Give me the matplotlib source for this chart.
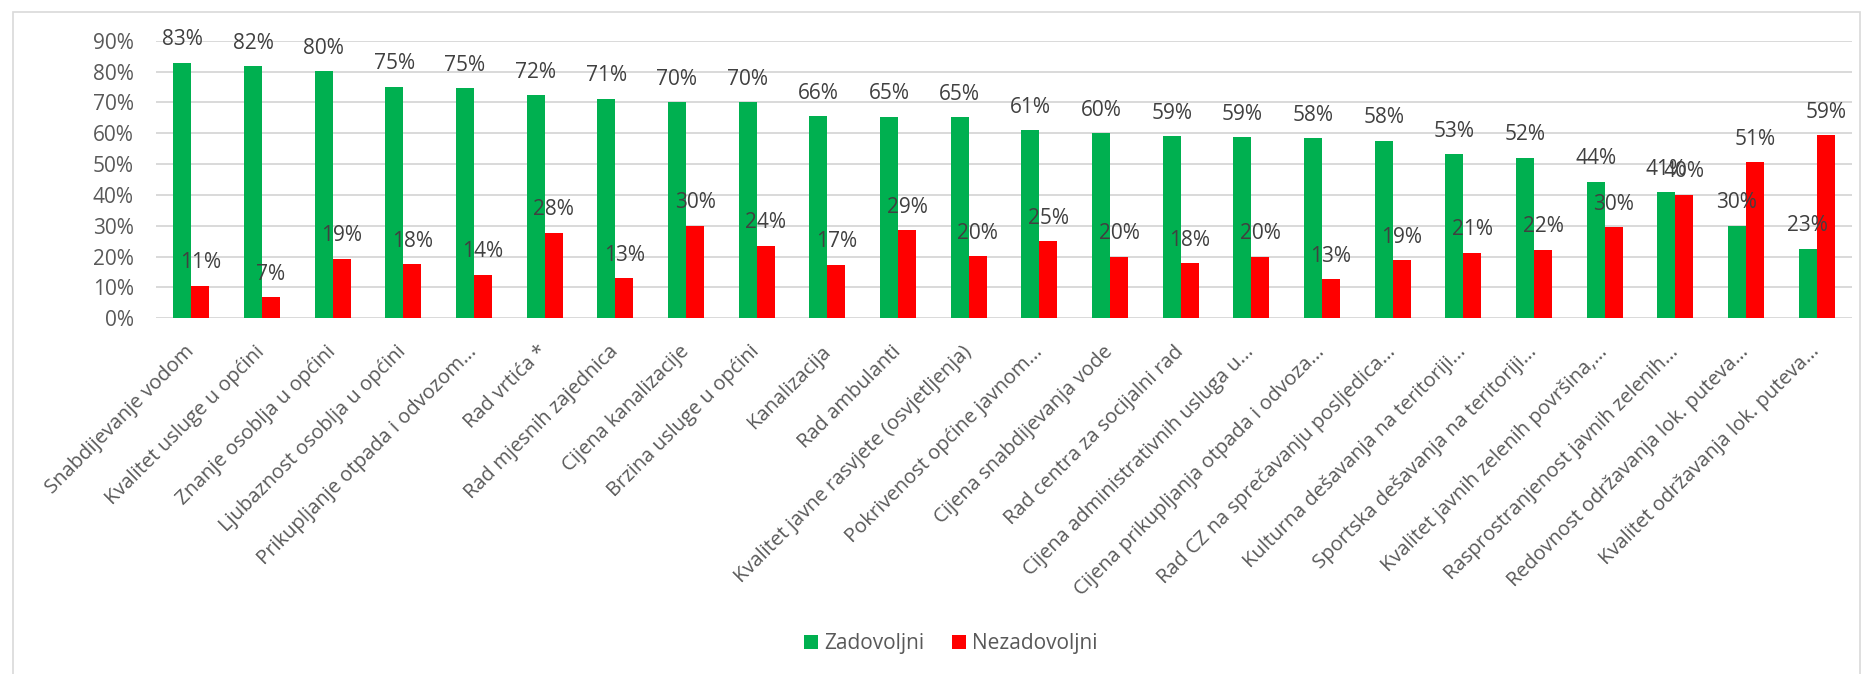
import matplotlib
matplotlib.use("Agg")
import matplotlib.pyplot as plt
import numpy as np
from matplotlib.patches import Rectangle

plt.rcParams["font.family"] = ["Open Sans", "DejaVu Sans"]

KATEGORIJE = [
    "Snabdijevanje vodom",
    "Kvalitet usluge u općini",
    "Znanje osoblja u općini",
    "Ljubaznost osoblja u općini",
    "Prikupljanje otpada i odvozom...",
    "Rad vrtića *",
    "Rad mjesnih zajednica",
    "Cijena kanalizacije",
    "Brzina usluge u općini",
    "Kanalizacija",
    "Rad ambulanti",
    "Kvalitet javne rasvjete (osvjetljenja)",
    "Pokrivenost općine javnom...",
    "Cijena snabdijevanja vode",
    "Rad centra za socijalni rad",
    "Cijena administrativnih usluga u...",
    "Cijena prikupljanja otpada i odvoza...",
    "Rad CZ na sprečavanju posljedica...",
    "Kulturna dešavanja na teritoriji...",
    "Sportska dešavanja na teritoriji...",
    "Kvalitet javnih zelenih površina,...",
    "Rasprostranjenost javnih zelenih...",
    "Redovnost održavanja lok. puteva...",
    "Kvalitet održavanja lok. puteva...",
]

ZADOVOLJNI = [82.9, 81.8, 80.1, 75.1, 74.6, 72.4, 71.2, 70.1, 70.0, 65.6, 65.4, 65.3,
              61.0, 60.0, 59.0, 58.8, 58.3, 57.6, 53.3, 52.1, 44.3, 40.8, 30.0, 22.6]
NEZADOVOLJNI = [10.6, 6.8, 19.3, 17.6, 14.2, 27.7, 13.0, 30.0, 23.6, 17.4, 28.6, 20.1,
                25.1, 20.0, 17.8, 20.0, 12.6, 18.9, 21.3, 22.3, 29.6, 40.1, 50.6, 59.3]

SERIJE = ["Zadovoljni", "Nezadovoljni"]
BOJE = ["#00B050", "#FF0000"]

W, H = 1863, 674
fig = plt.figure(figsize=(W / 100, H / 100), dpi=100)

# okvir grafikona
fig.patches.append(Rectangle((12.5 / W, -0.01), (1860 - 12.5) / W, 1.01 - 11.5 / H,
                             transform=fig.transFigure, fill=False,
                             edgecolor="#D9D9D9", linewidth=1.2))

ax = fig.add_axes([156 / W, 1 - 318.3 / H, 1696 / W, 277.6 / H])

x = np.arange(len(KATEGORIJE))
sirina = 0.255
for i, (vals, boja, naziv) in enumerate(zip([ZADOVOLJNI, NEZADOVOLJNI], BOJE, SERIJE)):
    offset = (i - 0.5) * sirina
    bars = ax.bar(x + offset, np.array(vals) / 100, sirina, color=boja, label=naziv,
                  edgecolor="none", zorder=3)
    for b, v in zip(bars, vals):
        ax.annotate(f"{v:.0f}%", (b.get_x() + b.get_width() / 2, b.get_height()),
                    xytext=(0, 12.5), textcoords="offset points",
                    ha="center", va="baseline", fontsize=15, color="#404040",
                    annotation_clip=False, zorder=4)

ax.set_xlim(-0.5, len(KATEGORIJE) - 0.5)
ax.set_ylim(0, 0.9)
ax.set_yticks(np.arange(0, 0.91, 0.1))
ax.set_yticklabels([f"{int(round(t * 100))}%" for t in np.arange(0, 0.91, 0.1)])
ax.grid(axis="y", color="#D9D9D9", linewidth=1.4, zorder=0)
ax.set_axisbelow(True)
for s in ax.spines.values():
    s.set_visible(False)

ax.set_xticks(x)
ax.set_xticklabels(KATEGORIJE)
ax.tick_params(axis="y", length=0, pad=16, labelsize=15, labelcolor="#595959")
ax.tick_params(axis="x", length=0, pad=22, labelsize=14.5, labelcolor="#595959")
plt.setp(ax.get_xticklabels(), rotation=45, ha="right", va="center",
         rotation_mode="anchor")

fig.legend(loc="center", bbox_to_anchor=(951 / W, 1 - 644 / H), ncol=2,
           frameon=False, fontsize=15, labelcolor="#595959",
           handlelength=0.68, handleheight=0.68, handletextpad=0.3,
           columnspacing=1.3)

fig.savefig("out.png", dpi=100)
